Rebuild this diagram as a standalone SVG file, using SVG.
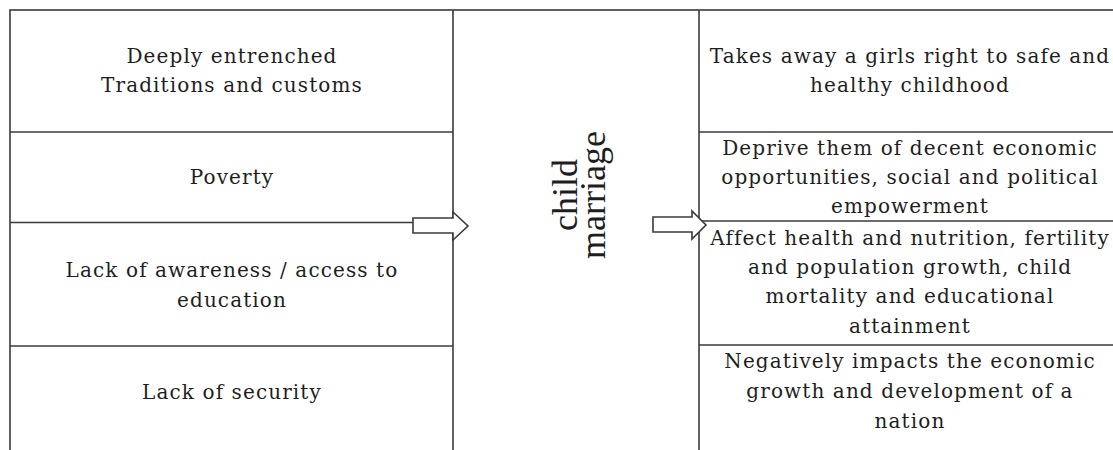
<svg xmlns="http://www.w3.org/2000/svg" width="1113" height="450" viewBox="0 0 1113 450">
<style>
.ln{stroke:#3a3a3a;stroke-width:1.6;fill:none}
.t{font-family:"DejaVu Serif","Liberation Serif",serif;font-size:20px;letter-spacing:1.1px;fill:#1e1e1e;text-anchor:middle}
.big{font-family:"Liberation Serif","Times New Roman",Times,serif;font-size:36px;fill:#1e1e1e;text-anchor:middle}
.arrow{fill:#fff;stroke:#3a3a3a;stroke-width:1.6;stroke-linejoin:miter}
</style>
<rect width="1113" height="450" fill="#fff"/>
<g id="frame">
<rect class="ln" x="10" y="10" width="1107" height="450"/>
<line class="ln" x1="453" y1="10" x2="453" y2="450"/>
<line class="ln" x1="699" y1="10" x2="699" y2="450"/>
<line class="ln" x1="10" y1="132" x2="453" y2="132"/>
<line class="ln" x1="10" y1="222.5" x2="453" y2="222.5"/>
<line class="ln" x1="10" y1="346" x2="453" y2="346"/>
<line class="ln" x1="699" y1="132" x2="1113" y2="132"/>
<line class="ln" x1="699" y1="221" x2="1113" y2="221"/>
<line class="ln" x1="699" y1="345" x2="1113" y2="345"/>
</g>
<g id="cause1"><text class="t" x="232" y="63">Deeply entrenched</text><text class="t" x="232" y="92">Traditions and customs</text></g>
<g id="cause2"><text class="t" x="232" y="184">Poverty</text></g>
<g id="cause3"><text class="t" x="232" y="277">Lack of awareness / access to</text><text class="t" x="232" y="307">education</text></g>
<g id="cause4"><text class="t" x="232" y="399">Lack of security</text></g>
<g id="center"><text class="big" transform="translate(577,195) rotate(-90)">child</text><text class="big" transform="translate(605,195) rotate(-90)">marriage</text></g>
<g id="effect1"><text class="t" x="910" y="63">Takes away a girls right to safe and</text><text class="t" x="910" y="92">healthy childhood</text></g>
<g id="effect2"><text class="t" x="910" y="155">Deprive them of decent economic</text><text class="t" x="910" y="184">opportunities, social and political</text><text class="t" x="910" y="213">empowerment</text></g>
<g id="effect3"><text class="t" x="910" y="245">Affect health and nutrition, fertility</text><text class="t" x="910" y="274">and population growth, child</text><text class="t" x="910" y="303">mortality and educational</text><text class="t" x="910" y="333">attainment</text></g>
<g id="effect4"><text class="t" x="910" y="368">Negatively impacts the economic</text><text class="t" x="910" y="398">growth and development of a</text><text class="t" x="910" y="428">nation</text></g>
<g id="connectors">
<path class="arrow" d="M413,218 H453 V212 L468,226 L453,240 V233 H413 Z"/>
<path class="arrow" d="M653,217 H692 V211 L706,225 L692,239 V232 H653 Z"/>
</g>
</svg>
